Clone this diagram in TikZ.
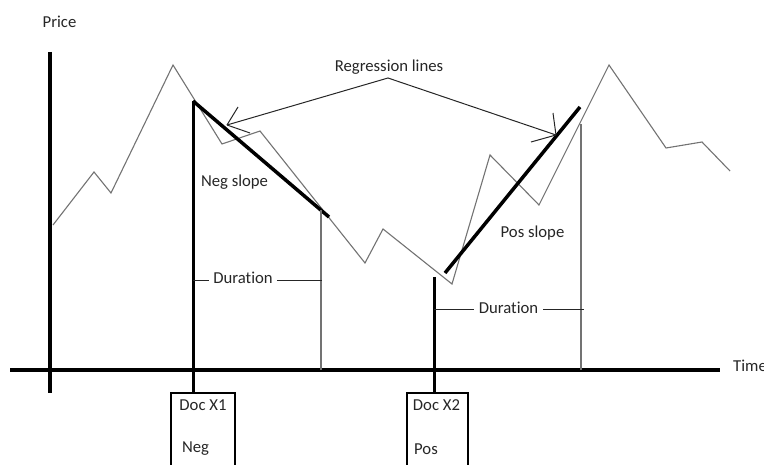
\documentclass[tikz,border=0pt]{standalone}
\usepackage{fontspec}
\setmainfont[Ligatures=NoCommon]{Carlito}
\begin{document}
\begin{tikzpicture}[x=1pt,y=-1pt,
  lbl/.style={font=\fontsize{16.7}{20}\selectfont, text=black!85, inner sep=0pt, anchor=base},
  price/.style={draw=black!55, line width=1.1pt, line join=miter},
  axis/.style={line width=4pt},
  reg/.style={line width=3.5pt},
  docline/.style={line width=3pt},
  thinv/.style={draw=black!55, line width=1.2pt},
  pointer/.style={draw=black!85, line width=1pt},
  durline/.style={draw=black!85, line width=1pt},
  docbox/.style={draw, line width=2.2pt, minimum height=100pt, anchor=north, inner sep=0pt},
]
\useasboundingbox (0,0) rectangle (764,465);

% price path points
\coordinate (p0) at (53,225);
\coordinate (p1) at (94,172);
\coordinate (p2) at (111,193);
\coordinate (p3) at (173,65);
\coordinate (p4) at (222,144);
\coordinate (p5) at (260,131);
\coordinate (p6) at (365,263);
\coordinate (p7) at (383,229);
\coordinate (p8) at (452,284);
\coordinate (p9) at (490,155);
\coordinate (p10) at (539,205);
\coordinate (p11) at (609,65);
\coordinate (p12) at (666,148);
\coordinate (p13) at (702,142);
\coordinate (p14) at (730,171);
\draw[price] (p0) -- (p1) -- (p2) -- (p3) -- (p4) -- (p5) -- (p6) -- (p7) -- (p8) -- (p9) -- (p10) -- (p11) -- (p12) -- (p13) -- (p14);

% axes
\coordinate (yTop) at (50,52);
\coordinate (yBot) at (50,393);
\coordinate (xL) at (10,370);
\coordinate (xR) at (720,370);
\draw[axis] (yTop) -- (yBot);
\draw[axis] (xL) -- (xR);

% doc boxes
\node[docbox, minimum width=64pt] (box1) at (203,392) {};
\node[docbox, minimum width=61pt] (box2) at (437.5,392) {};
\node[lbl] (doc1) at (203,410) {Doc X1};
\node[lbl] (neg) at (195.5,452) {Neg};
\node[lbl] (doc2) at (436.5,410) {Doc X2};
\node[lbl] (pos) at (426,454) {Pos};

% regression lines
\coordinate (neg0) at (193,101);
\coordinate (neg1) at (329,217);
\coordinate (pos0) at (445,273);
\coordinate (pos1) at (580,107);
\draw[reg] (neg0) -- (neg1);
\draw[reg] (pos0) -- (pos1);

% doc verticals
\coordinate (x2top) at (434,277);
\draw[docline] (neg0) -- (neg0 |- box1.north);
\draw[docline] (x2top) -- (x2top |- box2.north);

% thin verticals (end of duration)
\coordinate (e1top) at (321,210);
\coordinate (e2top) at (581,124);
\draw[thinv] (e1top) -- (e1top |- xL);
\draw[thinv] (e2top) -- (e2top |- xL);

% durations
\node[lbl, inner xsep=4pt] (dur1) at (243,284) {Duration};
\node[lbl, inner xsep=5pt] (dur2) at (508.5,314) {Duration};
\coordinate (d1s) at (193,281);
\coordinate (d1e) at (322,281);
\coordinate (d2s) at (434,310);
\coordinate (d2e) at (584,310);
\draw[durline] (d1s) -- (d1s -| dur1.west);
\draw[durline] (d1e -| dur1.east) -- (d1e);
\draw[durline] (d2s) -- (d2s -| dur2.west);
\draw[durline] (d2e -| dur2.east) -- (d2e);

% labels
\node[lbl] (pricelbl) at (59.5,27.5) {Price};
\node[lbl, anchor=base west] (timelbl) at (733,372) {Time};
\node[lbl] (reglbl) at (389,72) {Regression lines};
\node[lbl] (negslope) at (234.5,187) {Neg slope};
\node[lbl] (posslope) at (532.5,238) {Pos slope};

% pointers
\coordinate (apex) at (388,78);
\coordinate (tipA) at (227,125);
\coordinate (tipB) at (556,135);
\draw[pointer] (tipA) -- (apex) -- (tipB);
\draw[pointer] (tipA) -- ++(11,-18);
\draw[pointer] (tipA) -- ++(23,8);
\draw[pointer] (tipB) -- ++(-3,-22);
\draw[pointer] (tipB) -- ++(-25,7);
\end{tikzpicture}
\end{document}
